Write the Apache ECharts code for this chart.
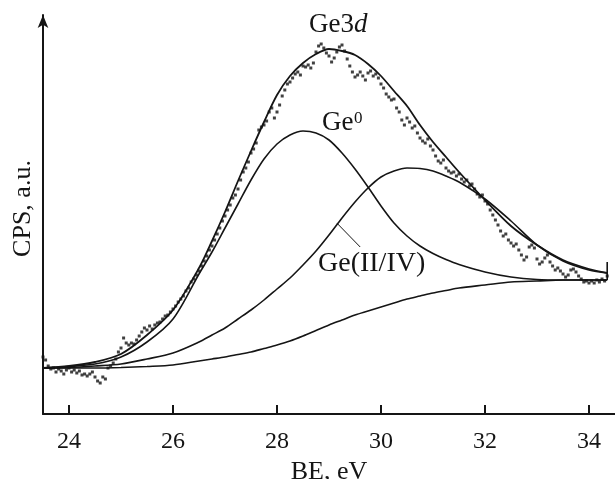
<!DOCTYPE html>
<html>
<head>
<meta charset="utf-8">
<script src="https://cdn.jsdelivr.net/npm/echarts@6/dist/echarts.min.js"></script>
<style>
html,body{margin:0;padding:0;background:#fff;}
#chart{width:615px;height:479px;}
</style>
</head>
<body>
<div id="chart"></div>
<script>
// ---- data ----
const beGrid = [23.5,24,24.5,25,25.5,26,26.5,26.75,27,27.25,27.5,27.75,28,28.25,28.5,28.75,29,29.25,29.5,29.75,30,30.25,30.5,30.75,31,31.25,31.5,32,32.5,33,33.5,34,34.35];
const background = [46,46,46,46.5,47.5,49,53,55,57,59.5,62,65.5,69,73,78,83.5,89,94,99,103,107,111,115,118,121,123.5,126,129,132,133,134,134,134];
const ge0 = [46,47.5,50,57,72,95,140,162,186,210,234,255,270,279,283,281,274,261,245,227,208,191,178,168,160.5,154.5,149.5,142,137,134.5,134,134,134];
const ge24 = [46,46.5,48,50,55,61,72,79,86,95,104,114,125,136,149,163,179,196,212,226,237,243,246,245.5,243,238,232,215,193,169,153,144,141];
const envelope = [46,48,52,60,79,104,146,173,202,233,263,292,319,338,351,360,365,363,359,350,338,323,308,289,272,257,242,214,188,169,154,145,141];
const endMark = [[34.35,134],[34.35,152]];
const leader = [[29.15,191],[29.6,167]];
const tickValues = [24,26,28,30,32,34];
const spectrum = [
[23.50,57],[23.55,54],[23.60,48],[23.65,45],[23.70,46],[23.75,42],[23.80,45],[23.85,43],[23.90,40],[23.95,44],
[24.00,46],[24.05,42],[24.10,44],[24.15,41],[24.20,43],[24.25,39],[24.30,40],[24.35,38],[24.40,40],[24.45,42],
[24.50,37],[24.55,33],[24.60,31],[24.65,37],[24.70,35],[24.75,46],[24.80,48],[24.85,51],[24.90,55],[24.95,62],
[25.00,66],[25.05,76],[25.10,71],[25.15,69],[25.20,71],[25.25,70],[25.30,74],[25.35,78],[25.40,82],[25.45,86],
[25.50,84],[25.55,88],[25.60,85],[25.65,89],[25.70,91],[25.75,92],[25.80,95],[25.85,98],[25.90,99],[25.95,102],
[26.00,105],[26.05,108],[26.10,112],[26.15,115],[26.20,118],[26.25,123],[26.30,126],[26.35,132],[26.40,135],[26.45,139],
[26.50,143],[26.55,148],[26.60,153],[26.65,158],[26.70,164],[26.75,168],[26.80,174],[26.85,180],[26.90,186],[26.95,193],
[27.00,198],[27.05,204],[27.10,209],[27.15,216],[27.20,219],[27.25,225],[27.30,234],[27.35,242],[27.40,246],[27.45,252],
[27.50,261],[27.55,265],[27.60,271],[27.65,284],[27.70,287],[27.75,289],[27.80,293],[27.85,302],[27.90,306],[27.95,296],
[28.00,302],[28.05,309],[28.10,318],[28.15,324],[28.20,330],[28.25,332],[28.30,336],[28.35,340],[28.40,342],[28.45,339],
[28.50,348],[28.55,347],[28.60,349],[28.65,346],[28.70,351],[28.75,362],[28.80,368],[28.85,370],[28.90,366],[28.95,361],
[29.00,358],[29.05,352],[29.10,356],[29.15,362],[29.20,367],[29.25,369],[29.30,363],[29.35,355],[29.40,348],[29.45,342],
[29.50,337],[29.55,339],[29.60,342],[29.65,338],[29.70,334],[29.75,341],[29.80,343],[29.85,338],[29.90,340],[29.95,336],
[30.00,330],[30.05,326],[30.10,320],[30.15,317],[30.20,314],[30.25,315],[30.30,306],[30.35,302],[30.40,294],[30.45,289],
[30.50,296],[30.55,292],[30.60,286],[30.65,288],[30.70,281],[30.75,276],[30.80,273],[30.85,271],[30.90,275],[30.95,268],
[31.00,264],[31.05,258],[31.10,253],[31.15,251],[31.20,254],[31.25,246],[31.30,243],[31.35,241],[31.40,242],[31.45,238],
[31.50,240],[31.55,235],[31.60,232],[31.65,234],[31.70,228],[31.75,230],[31.80,225],[31.85,220],[31.90,217],[31.95,219],
[32.00,213],[32.05,210],[32.10,204],[32.15,199],[32.20,194],[32.25,189],[32.30,183],[32.35,178],[32.40,180],[32.45,174],
[32.50,171],[32.55,168],[32.60,170],[32.65,164],[32.70,159],[32.75,154],[32.80,157],[32.85,167],[32.90,169],[32.95,166],
[33.00,155],[33.05,150],[33.10,152],[33.15,156],[33.20,159],[33.25,152],[33.30,148],[33.35,144],[33.40,146],[33.45,143],
[33.50,140],[33.55,137],[33.60,139],[33.65,144],[33.70,145],[33.75,142],[33.80,138],[33.85,135],[33.90,132],[33.95,133],
[34.00,131],[34.05,133],[34.10,131],[34.15,134],[34.20,132],[34.25,135],[34.30,133],[34.35,138]
];

const pair = (ys) => beGrid.map((x, i) => [x, ys[i]]);
const INK = '#151515';
const SERIF = '"Liberation Serif", "Times New Roman", serif';

const chart = echarts.init(document.getElementById('chart'), null, {renderer: 'canvas'});
const lineStyle = (w) => ({color: INK, width: w});
const curve = (name, ys, w) => ({
  name, type: 'line', data: pair(ys), smooth: 0.3, showSymbol: false, symbol: 'none',
  lineStyle: lineStyle(w), z: 3, animation: false
});
const txt = (x, y, text, font) => ({
  type: 'text', x, y,
  style: {text, font, fill: INK, align: 'left', verticalAlign: 'middle', textAlign: 'left', textVerticalAlign: 'middle'}
});

chart.setOption({
  animation: false,
  backgroundColor: '#ffffff',
  grid: {left: 43, right: 0, top: 15, bottom: 65, containLabel: false, outerBoundsMode: 'none'},
  xAxis: {
    type: 'value', min: 23.5, max: 34.5,
    name: 'BE, eV', nameLocation: 'middle', nameGap: 45,
    nameTextStyle: {fontFamily: SERIF, fontSize: 26, color: INK},
    axisLine: {show: true, lineStyle: {color: INK, width: 2}},
    axisTick: {show: true, inside: true, length: 9, lineStyle: {color: INK, width: 2}, customValues: tickValues},
    axisLabel: {show: true, margin: 16, fontFamily: SERIF, fontSize: 24, color: INK, customValues: tickValues},
    splitLine: {show: false}
  },
  yAxis: {
    type: 'value', min: 0, max: 399,
    name: 'CPS, a.u.', nameLocation: 'middle', nameGap: 7,
    nameTextStyle: {fontFamily: SERIF, fontSize: 26, color: INK, padding: [0, 0, 0, 12]},
    axisLine: {show: true, symbol: ['none', 'arrow'], symbolSize: [8, 13], lineStyle: {color: INK, width: 2}},
    axisTick: {show: false}, axisLabel: {show: false}, splitLine: {show: false}
  },
  series: [
    curve('background', background, 1.6),
    curve('Ge0', ge0, 1.6),
    curve('Ge(II/IV)', ge24, 1.6),
    curve('envelope', envelope, 1.8),
    {name: 'end', type: 'line', data: endMark, showSymbol: false, lineStyle: lineStyle(1.6), z: 3},
    {name: 'leader', type: 'line', data: leader, showSymbol: false, lineStyle: lineStyle(1), z: 3},
    {name: 'spectrum', type: 'scatter', data: spectrum, symbol: 'rect', symbolSize: 3,
     itemStyle: {color: '#111'}, z: 4}
  ],
  graphic: [
    txt(309, 25, 'Ge3', '27px ' + SERIF),
    txt(354, 25, 'd', 'italic 27px ' + SERIF),
    txt(322, 123, 'Ge', '27px ' + SERIF),
    txt(354, 119, '0', '17px ' + SERIF),
    txt(318, 264, 'Ge(II/IV)', '28px ' + SERIF)
  ]
});
</script>
</body>
</html>
